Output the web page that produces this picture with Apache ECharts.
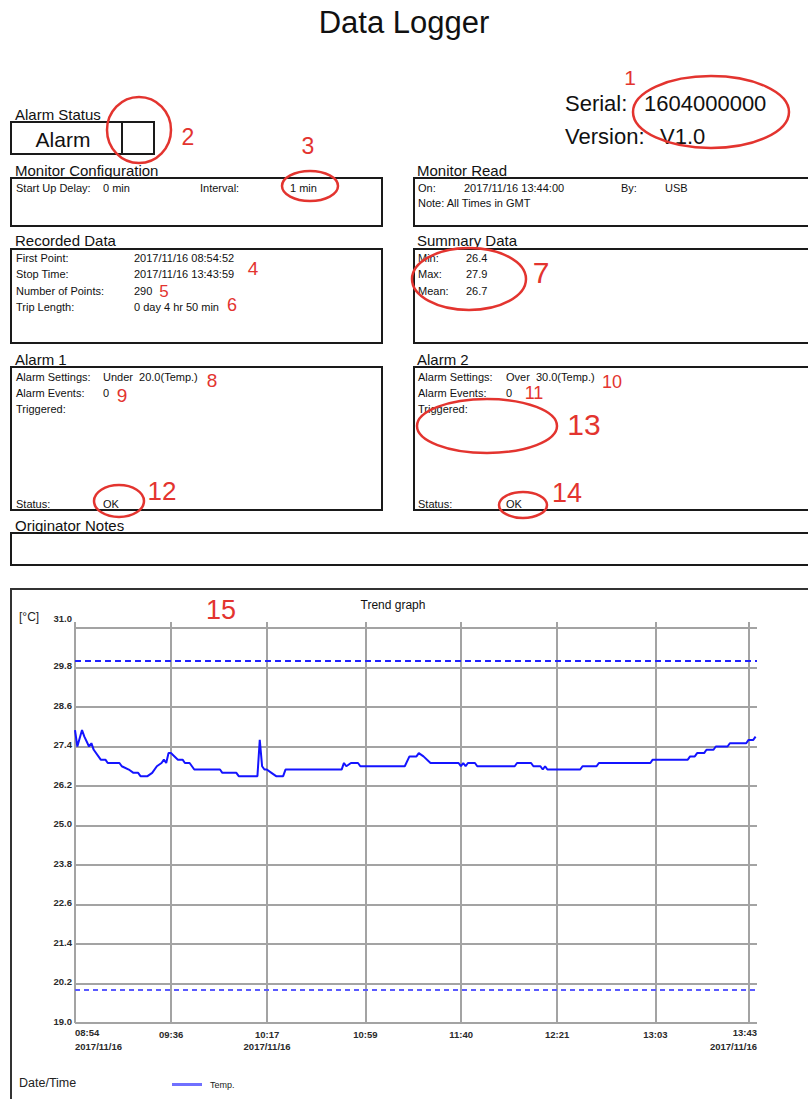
<!DOCTYPE html>
<html><head><meta charset="utf-8">
<script src="https://cdn.jsdelivr.net/npm/echarts@6/dist/echarts.min.js"></script>
<style>html,body{margin:0;padding:0;background:#fff;}#c{width:808px;height:1099px;}</style>
</head><body><div id="c"></div>
<script>
// ---------- data ----------
const minutes = [0,1,3,4,6,7,8,11,13,14,19,20,23,25,27,28,31,33,35,37,38,39,40,41,44,46,47,49,50,51,
  62,63,69,70,78,79,80,81,82,84,86,89,90,114,115,116,118,121,122,141,143,146,147,149,152,
  164,165,166,167,168,171,172,188,189,195,196,199,200,201,202,216,217,223,224,246,247,
  262,263,265,266,269,270,273,274,279,280,287,288,290,291];
const temps = [27.9,27.4,27.9,27.7,27.4,27.5,27.3,27.0,27.0,26.9,26.9,26.8,26.7,26.6,26.6,26.5,26.5,26.6,26.8,26.9,27.0,26.9,27.2,27.2,27.0,27.0,26.9,26.9,26.8,26.7,
  26.7,26.6,26.6,26.5,26.5,27.6,26.8,26.7,26.7,26.6,26.5,26.5,26.7,26.7,26.9,26.8,26.9,26.9,26.8,26.8,27.1,27.1,27.2,27.1,26.9,
  26.9,26.8,26.9,26.8,26.9,26.9,26.8,26.8,26.9,26.9,26.8,26.8,26.7,26.8,26.7,26.7,26.8,26.8,26.9,26.9,27.0,
  27.0,27.1,27.1,27.2,27.2,27.3,27.3,27.4,27.4,27.5,27.5,27.6,27.6,27.7];
const alarmHigh = 30.0;
const alarmLow = 20.0;
const yTickValues = [19.0,20.2,21.4,22.6,23.8,25.0,26.2,27.4,28.6,29.8,31.0];
const yTickLabels = ['19.0','20.2','21.4','22.6','23.8','25.0','26.2','27.4','28.6','29.8','31.0'];
const xGridValues = [0,41.13,82.13,124.13,165.13,206.13,248.13,288.13];   // minutes after 08:54:52
const xLabelValues = [0,41.13,82.13,124.13,165.13,206.13,248.13,291.6];
const xTickLabels = ['08:54\n2017/11/16','09:36','10:17\n2017/11/16','10:59','11:40','12:21','13:03','13:43\n2017/11/16'];
const xMax = 291.6;

const serialInfo = [['Serial:', '1604000000'], ['Version:', 'V1.0']];
const monitorConfig = [['Start Up Delay:', '0 min'], ['Interval:', '1 min']];
const monitorRead = [['On:', '2017/11/16 13:44:00'], ['By:', 'USB']];
const monitorNote = 'Note: All Times in GMT';
const recordedData = [['First Point:', '2017/11/16 08:54:52'], ['Stop Time:', '2017/11/16 13:43:59'], ['Number of Points:', '290'], ['Trip Length:', '0 day 4 hr 50 min']];
const summaryData = [['Min:', '26.4'], ['Max:', '27.9'], ['Mean:', '26.7']];
const alarm1 = [['Alarm Settings:', 'Under\u00a0 20.0(Temp.)'], ['Alarm Events:', '0'], ['Triggered:', '']];
const alarm2 = [['Alarm Settings:', 'Over\u00a0 30.0(Temp.)'], ['Alarm Events:', '0'], ['Triggered:', '']];
const alarmStatus = ['OK', 'OK'];
const seriesName = 'Temp.';

// ---------- layout ----------
const FONT = '"Liberation Sans", Arial, sans-serif';
const RED = '#e3342f';
const els = [];
function txt(x, y, s, size, o) {
  o = o || {};
  els.push({type:'text', x:x, y:y, z:10, silent:true, style:{
    text:s, fill:o.color||'#111', fontSize:size, fontFamily:o.family||FONT, fontWeight:o.weight||'normal',
    textAlign:o.align||'left', textVerticalAlign:'middle'}});
}
function box(x, y, w, h, color) {
  els.push({type:'rect', z:5, silent:true, shape:{x:x, y:y, width:w, height:h},
    style:{fill:'rgba(0,0,0,0)', stroke:color||'#1a1a1a', lineWidth:2}});
}
function ell(cx, cy, rx, ry) {
  els.push({type:'ellipse', z:20, silent:true, shape:{cx:cx, cy:cy, rx:rx, ry:ry},
    style:{fill:'rgba(0,0,0,0)', stroke:RED, lineWidth:2.5}});
}
function mark(x, y, s, size) { txt(x, y, s, size, {color:RED, align:'center'}); }

txt(404, 22, 'Data Logger', 31, {align:'center'});
txt(565, 103, serialInfo[0][0], 22); txt(644, 103, serialInfo[0][1], 22);
txt(565, 136, serialInfo[1][0], 22); txt(660, 136, serialInfo[1][1], 22);

txt(15, 114, 'Alarm Status', 15);
box(11, 122, 143, 32); box(122, 122, 32, 32);
txt(63, 139, 'Alarm', 21, {align:'center'});

txt(15, 170, 'Monitor Configuration', 15);
box(11, 178, 371, 48);
txt(16, 188, monitorConfig[0][0], 11); txt(103, 188, monitorConfig[0][1], 11);
txt(200, 188, monitorConfig[1][0], 11); txt(290, 188, monitorConfig[1][1], 11);

txt(417, 170, 'Monitor Read', 15);
box(414, 178, 420, 48);
txt(418, 188, monitorRead[0][0], 11); txt(464, 188, monitorRead[0][1], 11);
txt(621, 188, monitorRead[1][0], 11); txt(665, 188, monitorRead[1][1], 11);
txt(418, 203, monitorNote, 11);

txt(15, 240, 'Recorded Data', 15);
box(11, 249, 371, 94);
recordedData.forEach(function (r, i) { txt(16, 258 + i * 16.3, r[0], 11); txt(134, 258 + i * 16.3, r[1], 11); });

txt(417, 240, 'Summary Data', 15);
box(414, 249, 420, 94);
summaryData.forEach(function (r, i) { txt(418, 258 + i * 16.3, r[0], 11); txt(466, 258 + i * 16.3, r[1], 11); });

txt(15, 359, 'Alarm 1', 15);
box(11, 367, 371, 143);
alarm1.forEach(function (r, i) { txt(16, 377 + i * 16, r[0], 11); txt(103, 377 + i * 16, r[1], 11); });
txt(16, 504, 'Status:', 11); txt(103, 504, alarmStatus[0], 11);

txt(417, 359, 'Alarm 2', 15);
box(414, 367, 420, 143);
alarm2.forEach(function (r, i) { txt(418, 377 + i * 16, r[0], 11); txt(506, 377 + i * 16, r[1], 11); });
txt(418, 504, 'Status:', 11); txt(506, 504, alarmStatus[1], 11);

txt(15, 525, 'Originator Notes', 15);
box(11, 533, 820, 32);

// chart frame and texts
box(11, 589, 820, 540, '#333');
txt(393, 605, 'Trend graph', 12, {align:'center'});
txt(19, 617, '[\u00b0C]', 12, {color:'#222'});
txt(19, 1083, 'Date/Time', 12.5, {color:'#222'});

// red annotations
mark(630, 77, '1', 21); ell(711, 112, 78, 36);
mark(188, 137, '2', 23); ell(139, 130, 32, 33);
mark(308, 146, '3', 23); ell(310, 186, 28, 15);
mark(253, 268, '4', 19);
mark(164, 291, '5', 17);
mark(232, 305, '6', 18);
mark(541, 272, '7', 30); ell(469, 279, 57, 31);
mark(212, 380, '8', 19);
mark(122, 395, '9', 19);
mark(612, 382, '10', 18);
mark(534, 393, '11', 18);
mark(162, 491, '12', 26); ell(119, 501, 25, 16);
mark(584, 424, '13', 30); ell(487, 426, 70, 27);
mark(567, 493, '14', 27); ell(523, 505, 24, 13);
mark(221, 610, '15', 27);

// ---------- chart ----------
const axisFont = {fontFamily:FONT, fontSize:9.5, fontWeight:'bold', color:'#2a2a2a'};
const gridLine = {color:'#a3a3a3', width:2};
function idxOf(arr, v) { for (let i = 0; i < arr.length; i++) if (Math.abs(arr[i] - v) < 1e-6) return i; return -1; }

const chart = echarts.init(document.getElementById('c'), null, {renderer:'svg', width:808, height:1099});
chart.setOption({
  animation:false,
  backgroundColor:'#ffffff',
  graphic:els,
  grid:{left:75, top:628, width:682, height:395, containLabel:false},
  legend:{
    left:172, top:1080, padding:0, itemWidth:30, itemHeight:3, icon:'rect', itemGap:5,
    data:[{name:seriesName, itemStyle:{color:'#7070ff'}}],
    textStyle:{fontFamily:FONT, fontSize:9, color:'#222', padding:[0,0,0,3]}
  },
  xAxis:[{
    type:'value', min:0, max:xMax, position:'bottom',
    axisLine:{show:false},
    axisTick:{show:false, customValues:xGridValues},
    splitLine:{show:true, lineStyle:gridLine},
    axisLabel:{
      show:true, customValues:xLabelValues, margin:2,
      alignMinLabel:'left', alignMaxLabel:'right',
      formatter:function (v) {
        const i = idxOf(xLabelValues, v);
        if (i < 0) return '';
        const first = (i === 0 || i === xLabelValues.length - 1) ? 'a' : 's';
        return xTickLabels[i].split('\n').map(function (l, k) { return '{' + (k === 0 ? first : 'a') + '|' + l + '}'; }).join('\n');
      },
      rich:{
        a:Object.assign({lineHeight:14}, axisFont),
        s:Object.assign({lineHeight:14, padding:[5,0,0,0]}, axisFont)
      }
    }
  },{
    type:'value', min:0, max:xMax, position:'top',
    axisLine:{show:false},
    axisTick:{show:true, inside:false, length:6, customValues:xGridValues, lineStyle:gridLine},
    axisLabel:{show:false}, splitLine:{show:false}
  }],
  yAxis:{
    type:'value', min:19, max:31,
    axisLine:{show:false},
    axisTick:{show:false, customValues:yTickValues},
    splitLine:{show:true, lineStyle:gridLine},
    axisLabel:{
      customValues:yTickValues, margin:3,
      formatter:function (v) {
        const i = idxOf(yTickValues, v);
        if (i < 0) return '';
        return (i === yTickValues.length - 1 ? '{t|' : '{n|') + yTickLabels[i] + '}';
      },
      rich:{
        n:Object.assign({padding:[0,0,4,0]}, axisFont),
        t:Object.assign({padding:[0,0,20,0]}, axisFont)
      }
    }
  },
  series:[{
    name:seriesName, type:'line', xAxisIndex:0, yAxisIndex:0,
    data:minutes.map(function (m, i) { return [m, temps[i]]; }),
    showSymbol:false, symbol:'none', color:'#1414ff',
    lineStyle:{color:'#1414ff', width:2},
    z:5,
    markLine:{
      silent:true, symbol:['none','none'], label:{show:false},
      data:[
        {yAxis:alarmHigh, lineStyle:{color:'#2020ff', type:[6,4], width:2}},
        {yAxis:alarmLow, lineStyle:{color:'#5a5aff', type:[5,4], width:2}}
      ]
    }
  }]
});
</script>
</body></html>
